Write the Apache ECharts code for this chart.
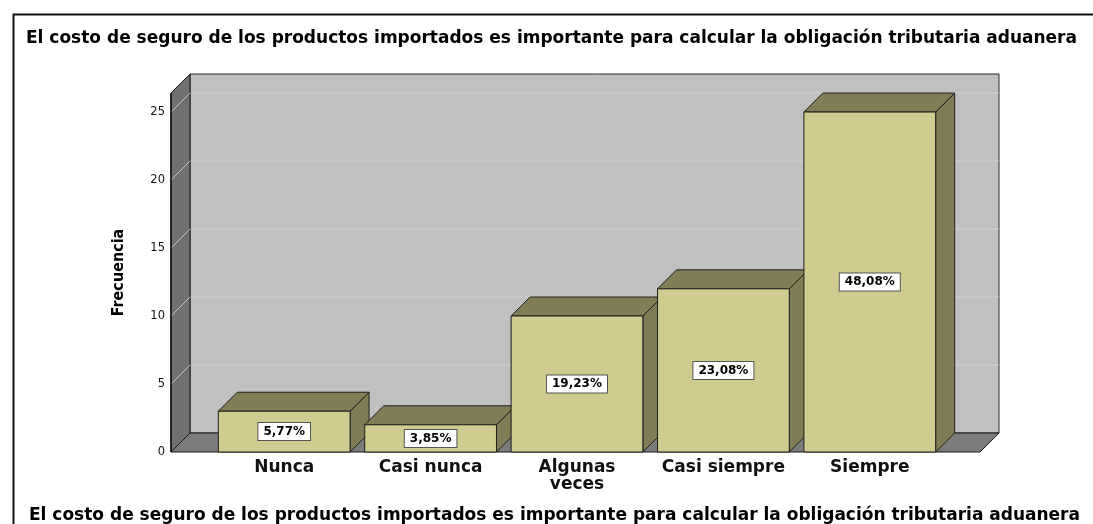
<!DOCTYPE html>
<html>
<head>
<meta charset="utf-8">
<title>Frecuencia</title>
<script src="https://cdn.jsdelivr.net/npm/echarts@6/dist/echarts.min.js"></script>
<style>
  html, body { margin: 0; padding: 0; background: #fff; }
  #main { width: 1093px; height: 524px; }
</style>
</head>
<body>
<div id="main"></div>
<script>
// datos
var categorias = ['Nunca', 'Casi nunca', 'Algunas\nveces', 'Casi siempre', 'Siempre']
var frecuencias = [3, 2, 10, 12, 25]
var porcentajes = [5.77, 3.85, 19.23, 23.08, 48.08]
var yTicks = [0, 5, 10, 15, 20, 25]
var yMax = 26.4
var titulo = 'El costo de seguro de los productos importados es importante para calcular la obligación tributaria aduanera'

// profundidad del efecto 3D
var DX = 19, DY = -19
var TOP = 93, HEIGHT = 359

var chart = echarts.init(document.getElementById('main'), null, { renderer: 'canvas' })

function renderWalls(params, api) {
  var fb = api.coord([0, 0])
  var ft = api.coord([0, yMax])
  var rb = api.coord([1, 0])
  var x0 = fb[0], x1 = rb[0], yb = fb[1], yt = ft[1]
  var kids = []
  // pared del fondo
  kids.push({ type: 'rect', shape: { x: x0 + DX, y: yt + DY, width: x1 - x0, height: yb - yt },
    style: { fill: '#c0c0c0', stroke: '#2a2a2a', lineWidth: 1 } })
  for (var k = 1; k < yTicks.length; k++) {
    var y = api.coord([0, yTicks[k]])[1]
    kids.push({ type: 'line', shape: { x1: x0 + DX, y1: y + DY, x2: x1 + DX, y2: y + DY },
      style: { stroke: '#d0d0d0', lineWidth: 1 } })
  }
  // pared izquierda
  kids.push({ type: 'polygon', shape: { points: [[x0, yt], [x0 + DX, yt + DY], [x0 + DX, yb + DY], [x0, yb]] },
    style: { fill: '#707070', stroke: '#1a1a1a', lineWidth: 1 } })
  for (var j = 1; j < yTicks.length; j++) {
    var yy = api.coord([0, yTicks[j]])[1]
    kids.push({ type: 'line', shape: { x1: x0, y1: yy, x2: x0 + DX, y2: yy + DY },
      style: { stroke: '#c4c4c4', lineWidth: 1 } })
  }
  // piso
  kids.push({ type: 'polygon', shape: { points: [[x0, yb], [x0 + DX, yb + DY], [x1 + DX, yb + DY], [x1, yb]] },
    style: { fill: '#7c7c7c', stroke: '#1a1a1a', lineWidth: 1 } })
  kids.push({ type: 'line', shape: { x1: x0, y1: yt, x2: x0, y2: yb },
    style: { stroke: '#111', lineWidth: 1.5 } })
  return { type: 'group', children: kids }
}

function renderBars(params, api) {
  var i = api.value(0)
  var v = api.value(1)
  var top = api.coord([i, v])
  var base = api.coord([i, 0])
  var w = api.size([1, 0])[0] * 0.9
  var x0 = top[0] - w / 2, x1 = top[0] + w / 2
  var yt = top[1], yb = base[1]
  var lbl = porcentajes[params.dataIndex].toFixed(2).replace('.', ',') + '%'
  return {
    type: 'group',
    children: [
      { type: 'polygon', shape: { points: [[x1, yt], [x1 + DX, yt + DY], [x1 + DX, yb + DY], [x1, yb]] },
        style: { fill: '#807c55', stroke: '#1e1e1e', lineWidth: 1 } },
      { type: 'polygon', shape: { points: [[x0, yt], [x0 + DX, yt + DY], [x1 + DX, yt + DY], [x1, yt]] },
        style: { fill: '#817d56', stroke: '#1e1e1e', lineWidth: 1 } },
      { type: 'rect', shape: { x: x0, y: yt, width: w, height: yb - yt },
        style: { fill: '#d0cb8f', stroke: '#1e1e1e', lineWidth: 1 } },
      { type: 'text', x: top[0], y: (yt + yb) / 2,
        style: { text: lbl, align: 'center', verticalAlign: 'middle', fill: '#000',
          font: 'bold 12px "DejaVu Sans"', backgroundColor: '#fff',
          borderColor: '#555', borderWidth: 1, padding: [3, 5, 2, 5] } }
    ]
  }
}

var barData = frecuencias.map(function (v, i) { return [i, v] })

var option = {
  animation: false,
  graphic: [
    { type: 'rect', left: 11, top: 12, shape: { width: 1200, height: 700 },
      style: { fill: 'none', stroke: '#111', lineWidth: 2 }, z: -10 }
  ],
  title: [
    { text: titulo, left: 26, top: 30, padding: 0,
      textStyle: { fontFamily: 'DejaVu Sans', fontWeight: 'bold', fontSize: 17, color: '#000' } },
    { text: titulo, left: 29, top: 507, padding: 0,
      textStyle: { fontFamily: 'DejaVu Sans', fontWeight: 'bold', fontSize: 17, color: '#000' } }
  ],
  grid: [
    { left: 171, width: 809, top: TOP, height: HEIGHT },
    { left: 211, width: 732, top: TOP, height: HEIGHT }
  ],
  xAxis: [
    { type: 'value', gridIndex: 0, min: 0, max: 1, show: false },
    { type: 'category', gridIndex: 1, data: categorias,
      axisLine: { show: false }, axisTick: { show: false },
      axisLabel: { margin: 7, interval: 0, color: '#111', fontFamily: 'DejaVu Sans',
        fontWeight: 'bold', fontSize: 17, lineHeight: 17 } }
  ],
  yAxis: [
    { type: 'value', gridIndex: 0, min: 0, max: yMax, interval: 5,
      name: 'Frecuencia', nameLocation: 'middle', nameGap: 44, nameRotate: 90,
      nameTextStyle: { fontFamily: '"Liberation Sans Narrow", "DejaVu Sans Condensed", sans-serif',
        fontWeight: 'bold', fontSize: 16, color: '#000' },
      axisLine: { show: false }, axisTick: { show: false }, splitLine: { show: false },
      axisLabel: { margin: 6, color: '#111', fontFamily: 'DejaVu Sans', fontSize: 11.5,
        showMaxLabel: false } },
    { type: 'value', gridIndex: 1, min: 0, max: yMax, show: false, splitLine: { show: false } }
  ],
  series: [
    { type: 'custom', xAxisIndex: 0, yAxisIndex: 0, data: [[0, 0]], renderItem: renderWalls,
      silent: true, z: 1 },
    { type: 'custom', xAxisIndex: 1, yAxisIndex: 1, data: barData, renderItem: renderBars, z: 3 }
  ]
}

chart.setOption(option)
</script>
</body>
</html>
